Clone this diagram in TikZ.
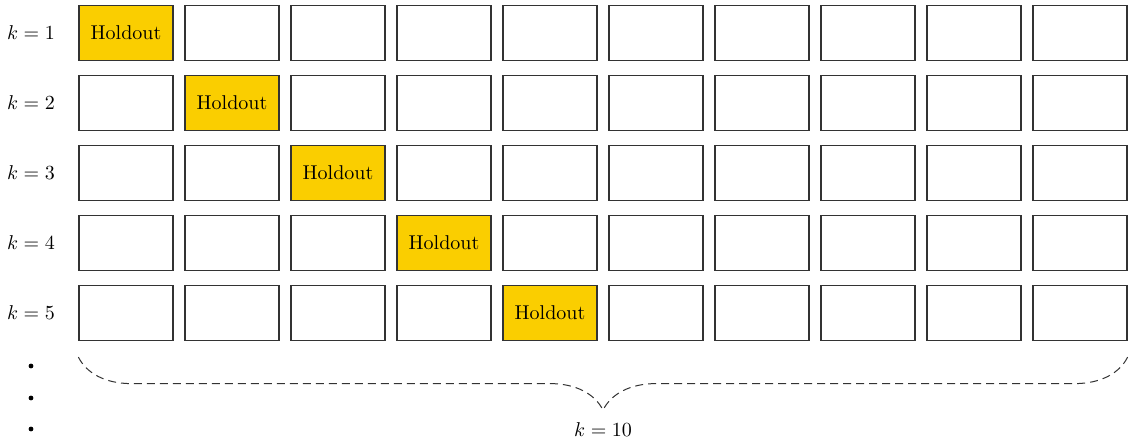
\documentclass[tikz,border=0pt]{standalone}
\usepackage{amsmath}
\usepackage{tikz}
\usetikzlibrary{decorations.pathreplacing}

\definecolor{holdout}{RGB}{250,206,0}

\begin{document}
\begin{tikzpicture}[x=0.5pt,y=-0.5pt,
  fold/.style={draw=black!80,line width=0.6pt,minimum width=47pt,minimum height=27.5pt,inner sep=0pt},
  held/.style={fold,fill=holdout}]
\useasboundingbox (0,0) rectangle (1129,445);

% one row per k, the holdout fold moves one box to the right
\foreach \r in {1,...,5}{
  \node at (31,{33+70*(\r-1)}) (k\r) {$k = \r$};
  \foreach \c in {1,...,10}{
    \ifnum\c=\r
      \node[held] at ({126+106*(\c-1)},{33+70*(\r-1)}) (f\r-\c) {Holdout};
    \else
      \node[fold] at ({126+106*(\c-1)},{33+70*(\r-1)}) (f\r-\c) {};
    \fi
  }
}

% vertical dots
\fill (31,366) circle (1.2pt);
\fill (31,398) circle (1.2pt);
\fill (31,429) circle (1.2pt);

% brace under all ten folds
\draw[black!80,line width=0.5pt,dash pattern=on 4pt off 2.5pt,decorate,
      decoration={brace,mirror,amplitude=26.5pt}]
  ([yshift=-8pt]f5-1.south west) -- ([yshift=-8pt]f5-10.south east);
\node at (603,430) (ktot) {$k = 10$};

\end{tikzpicture}
\end{document}
